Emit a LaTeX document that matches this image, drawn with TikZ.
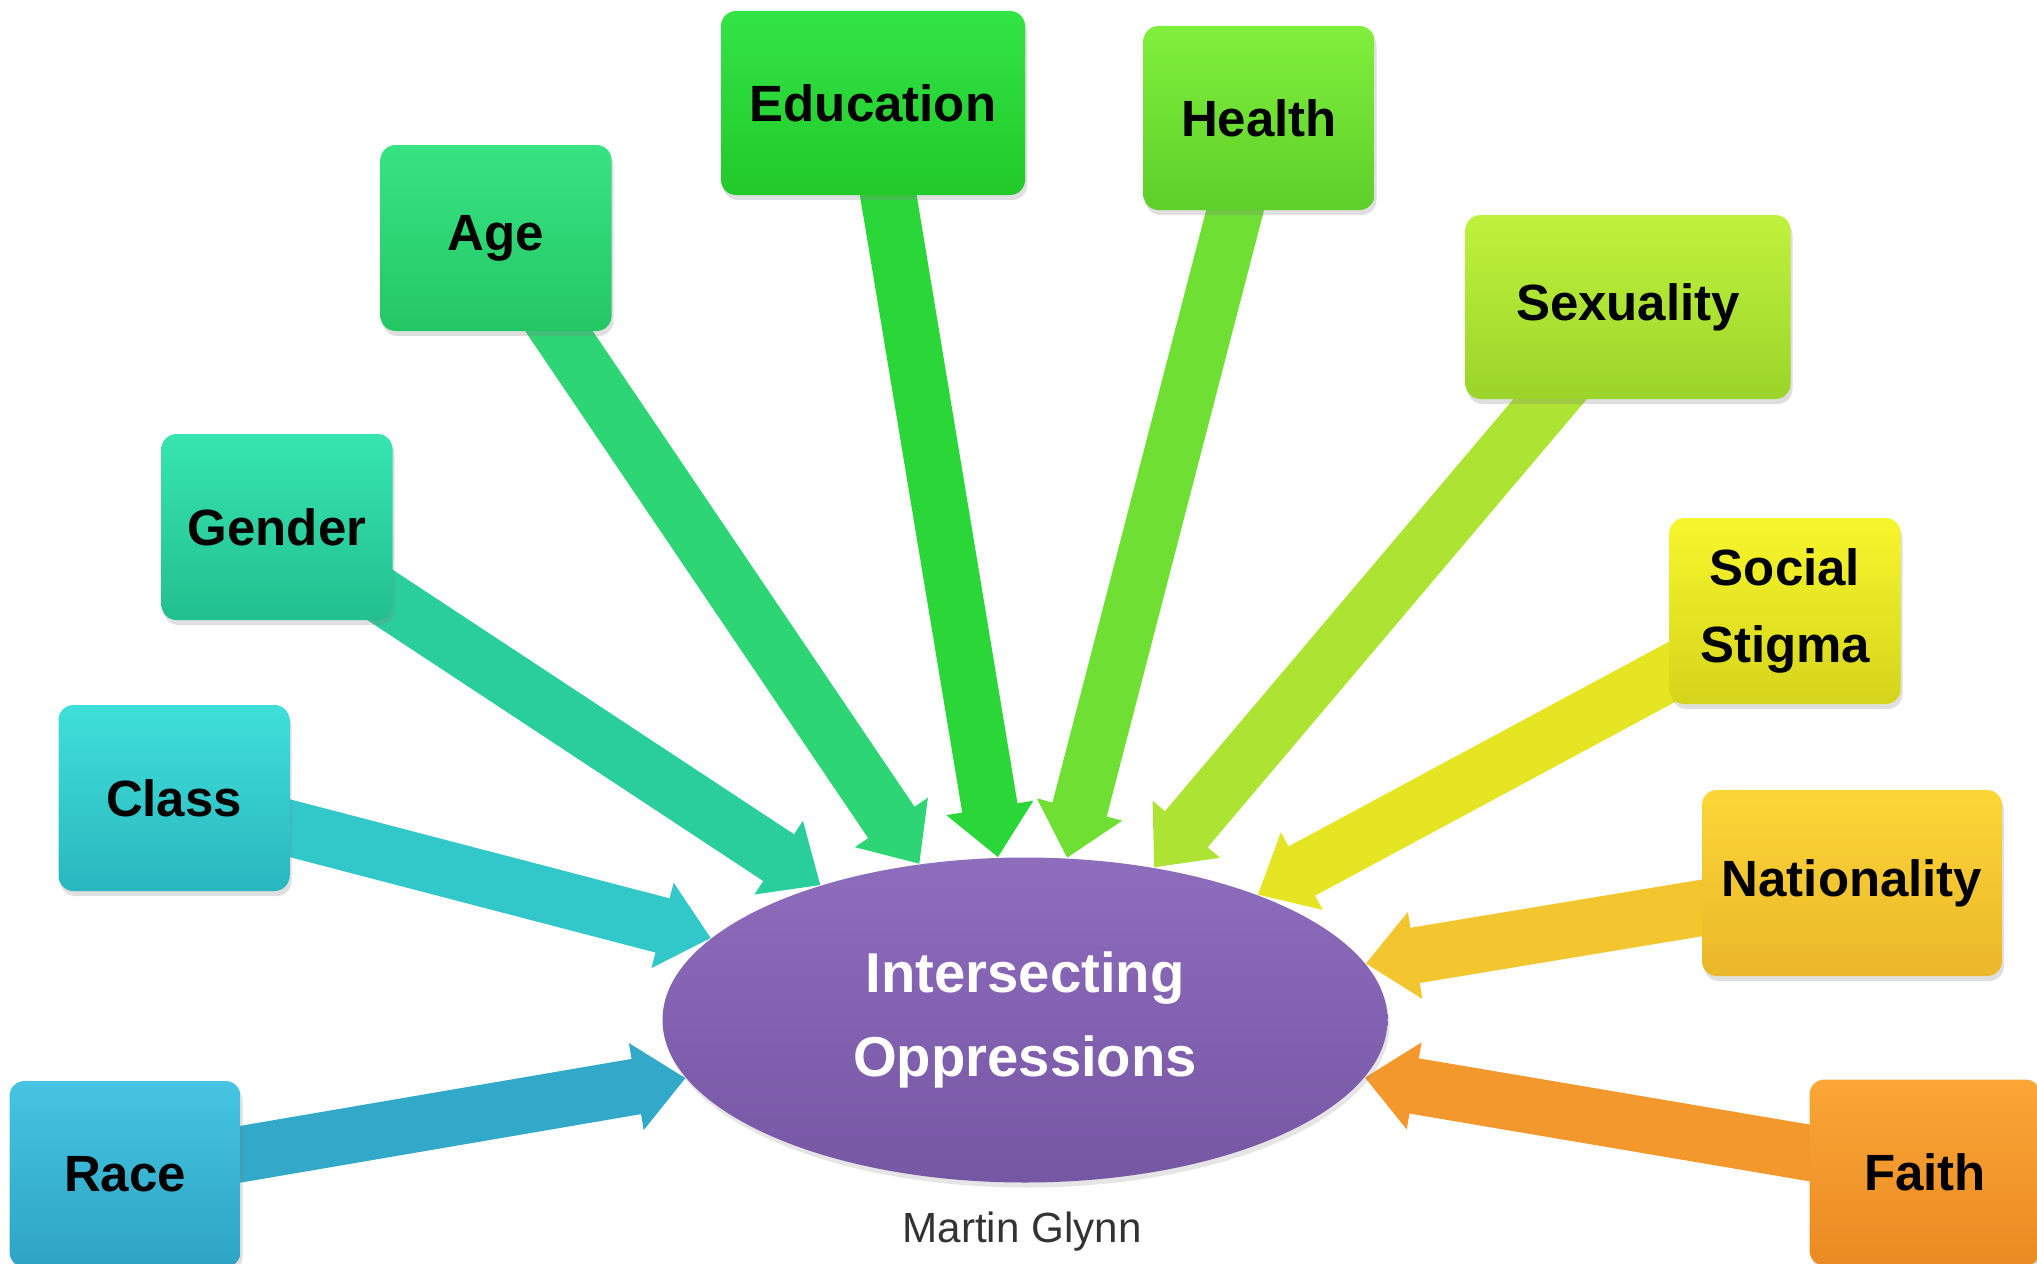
\documentclass[tikz,border=0pt]{standalone}
\usepackage{fontspec}
\setmainfont{Liberation Sans}
\usetikzlibrary{arrows.meta,shapes.geometric,shadows,backgrounds}

\definecolor{raceTop}{HTML}{46C4E2}
\definecolor{raceBot}{HTML}{2EA4C4}
\definecolor{classTop}{HTML}{3FDFD9}
\definecolor{classBot}{HTML}{2AB7BF}
\definecolor{genderTop}{HTML}{37E5B1}
\definecolor{genderBot}{HTML}{22BF8F}
\definecolor{ageTop}{HTML}{38E382}
\definecolor{ageBot}{HTML}{24C765}
\definecolor{eduTop}{HTML}{33E445}
\definecolor{eduBot}{HTML}{22C92A}
\definecolor{healthTop}{HTML}{80EF3C}
\definecolor{healthBot}{HTML}{5ECF2A}
\definecolor{sexTop}{HTML}{BFF23C}
\definecolor{sexBot}{HTML}{9BD42A}
\definecolor{stigmaTop}{HTML}{F7F62C}
\definecolor{stigmaBot}{HTML}{D5D41C}
\definecolor{natTop}{HTML}{FCD637}
\definecolor{natBot}{HTML}{EAB72A}
\definecolor{faithTop}{HTML}{FBA637}
\definecolor{faithBot}{HTML}{EA8A22}
\definecolor{coreTop}{HTML}{8E6DBC}
\definecolor{coreBot}{HTML}{7657A4}

\begin{document}
\begin{tikzpicture}[
    box/.style={rectangle, rounded corners=0.15cm, minimum width=2.31cm, minimum height=1.86cm, font=\fontsize{14.5}{22}\selectfont\bfseries, align=center, drop shadow={opacity=0.25, shadow xshift=0.02cm, shadow yshift=-0.05cm}},
    arr/.style={line width=0.56cm, -{Triangle[width=0.85cm,length=0.5cm]}},
]
    \useasboundingbox (0,0) rectangle (20.37,12.63);

    % centre
    \node[ellipse, minimum width=7.25cm, minimum height=3.25cm, top color=coreTop, bottom color=coreBot, text=white, font=\fontsize{16}{24}\selectfont\bfseries, align=center, drop shadow={opacity=0.2, shadow xshift=0.02cm, shadow yshift=-0.05cm}] (core) at (10.25,2.43) {Intersecting\\Oppressions};

    % factors
    \node[box, top color=raceTop, bottom color=raceBot] (race) at (1.25,0.89) {Race};
    \node[box, top color=classTop, bottom color=classBot] (class) at (1.74,4.65) {Class};
    \node[box, top color=genderTop, bottom color=genderBot] (gender) at (2.77,7.36) {Gender};
    \node[box, top color=ageTop, bottom color=ageBot] (age) at (4.96,10.25) {Age};
    \node[box, top color=eduTop, bottom color=eduBot, minimum width=3.04cm, minimum height=1.84cm] (education) at (8.73,11.60) {Education};
    \node[box, top color=healthTop, bottom color=healthBot, minimum height=1.84cm] (health) at (12.59,11.45) {Health};
    \node[box, top color=sexTop, bottom color=sexBot, minimum width=3.25cm, minimum height=1.84cm] (sexuality) at (16.28,9.56) {Sexuality};
    \node[box, top color=stigmaTop, bottom color=stigmaBot] (stigma) at (17.85,6.52) {Social\\Stigma};
    \node[box, top color=natTop, bottom color=natBot, minimum width=3.0cm] (nationality) at (18.52,3.80) {Nationality};
    \node[box, top color=faithTop, bottom color=faithBot] (faith) at (19.25,0.905) {Faith};

    \begin{pgfonlayer}{background}
        \fill[white] (0,0) rectangle (20.37,12.63);
        \draw[arr, raceBot!85!raceTop] (race.center) -- (core);
        \draw[arr, classBot!60!classTop] (class.center) -- (core);
        \draw[arr, genderBot!60!genderTop] (gender.center) -- (core);
        \draw[arr, ageBot!50!ageTop] (age.center) -- (core);
        \draw[arr, eduBot!50!eduTop] (education.center) -- (core);
        \draw[arr, healthBot!50!healthTop] (health.center) -- (core);
        \draw[arr, sexBot!50!sexTop] (sexuality.center) -- (core);
        \draw[arr, stigmaBot!50!stigmaTop] (stigma.center) -- (core);
        \draw[arr, natBot!50!natTop] (nationality.center) -- (core);
        \draw[arr, faithBot!50!faithTop] (faith.center) -- (core);
    \end{pgfonlayer}

    \node[font=\fontsize{12}{14}\selectfont, text=black!80] (credit) at (10.22,0.31) {Martin Glynn};
\end{tikzpicture}
\end{document}
